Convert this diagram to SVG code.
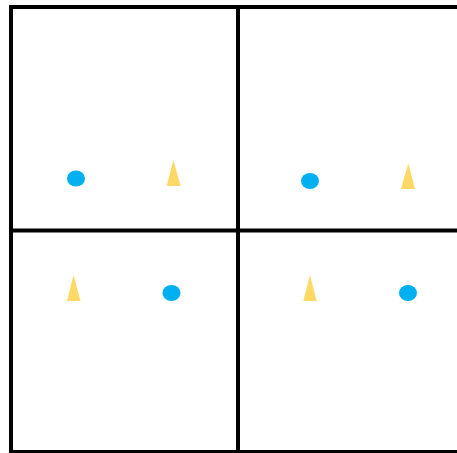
<svg xmlns="http://www.w3.org/2000/svg" width="457" height="453" viewBox="0 0 457 453">
<style>
.grid{stroke:#000;stroke-width:4;fill:none}
.dot{fill:#00b0f0}
.tri{fill:#ffd966}
</style>
<rect width="457" height="453" fill="#fff"/>
<g id="grid">
<rect class="grid" x="11" y="7" width="460" height="445"/>
<line class="grid" x1="238" y1="7" x2="238" y2="453"/>
<line class="grid" x1="11" y1="230.5" x2="457" y2="230.5"/>
</g>
<g id="q1">
<ellipse class="dot" cx="76" cy="178.5" rx="9" ry="8"/>
<polygon class="tri" points="173.3,160 166.7,186 180.7,186"/>
</g>
<g id="q2">
<ellipse class="dot" cx="310" cy="181" rx="9" ry="8"/>
<polygon class="tri" points="408.3,163 401,189 415,189"/>
</g>
<g id="q3">
<polygon class="tri" points="73.5,275 67,301 80.5,301"/>
<ellipse class="dot" cx="171.5" cy="293" rx="9" ry="8"/>
</g>
<g id="q4">
<polygon class="tri" points="310,275 303.3,301 316.7,301"/>
<ellipse class="dot" cx="408" cy="293" rx="9" ry="8"/>
</g>
</svg>
